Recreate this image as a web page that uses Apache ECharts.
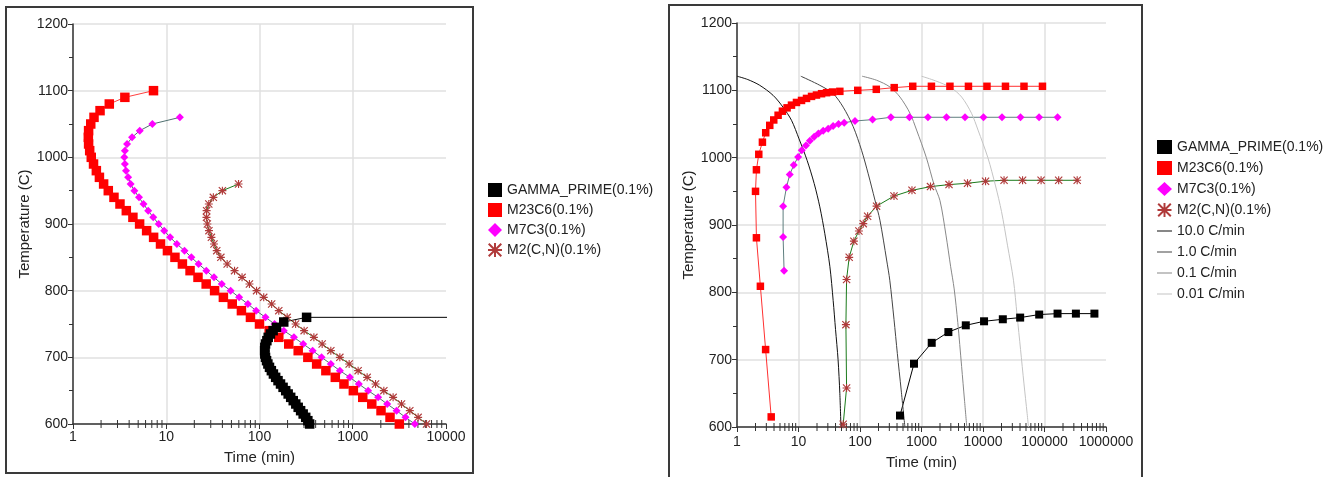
<!DOCTYPE html>
<html>
<head>
<meta charset="utf-8">
<script src="https://cdn.jsdelivr.net/npm/echarts@6/dist/echarts.min.js"></script>
<style>
html, body { margin: 0; padding: 0; background: #fff; }
#chart { width: 1323px; height: 477px; }
</style>
</head>
<body>
<div id="chart"></div>
<script>
// ---- left panel : [time (min), temperature (C)] ----
var leftGamma = [[100000,760],[320,760],[182,753],[152,745],[140,740],[131,735],[124,730],[120,725],[116,720],[114,715],[113.5,710],[114,705],[116,700],[119,695],[123,690],[128,685],[134,680],[141,675],[149,670],[158,665],[168,660],[179,655],[191,650],[203,645],[216,640],[230,635],[245,630],[260,625],[276,620],[294,615],[313,610],[330,605],[345,600]];
var leftM23C6 = [[7.3,1100],[3.6,1090],[2.45,1080],[1.95,1070],[1.68,1060],[1.55,1050],[1.47,1040],[1.46,1030],[1.47,1020],[1.51,1010],[1.57,1000],[1.66,990],[1.78,980],[1.92,970],[2.13,960],[2.39,950],[2.75,940],[3.19,930],[3.73,920],[4.39,910],[5.18,900],[6.16,890],[7.32,880],[8.68,870],[10.3,860],[12.4,850],[14.9,840],[18,830],[21.9,820],[26.8,810],[33,800],[41,790],[51,780],[64,770],[80,760],[100,750],[127,740],[161,730],[206,720],[260,710],[330,700],[410,690],[515,680],[650,670],[805,660],[1015,650],[1280,640],[1600,630],[2010,620],[2510,610],[3160,600]];
var leftM7C3 = [[14,1060],[7.1,1050],[5.2,1040],[4.3,1030],[3.8,1020],[3.6,1010],[3.55,1000],[3.6,990],[3.7,980],[3.9,970],[4.15,960],[4.55,950],[5.1,940],[5.7,930],[6.4,920],[7.25,910],[8.3,900],[9.5,890],[11,880],[13,870],[15.7,860],[18.6,850],[22.2,840],[26.9,830],[32.5,820],[39.4,810],[49,800],[60.5,790],[75,780],[92,770],[116,760],[145,750],[182,740],[234,730],[294,720],[371,710],[463,700],[582,690],[728,680],[931,670],[1161,660],[1462,650],[1871,640],[2339,630],[2950,620],[3680,610],[4630,600]];
var leftM2CN = [[59.6,960],[40,950],[32,940],[28.6,930],[27.1,920],[27,910],[27.6,900],[28.7,890],[30.5,880],[32.5,870],[34.8,860],[38.5,850],[45,840],[54,830],[65,820],[78,810],[93,800],[111,790],[135,780],[161,770],[198,760],[244,750],[301,740],[383,730],[470,720],[582,710],[727,700],[915,690],[1142,680],[1427,670],[1756,660],[2155,650],[2710,640],[3333,630],[4093,620],[5025,610],[6180,600]];

// ---- right panel ----
var rightGamma = [[447,617],[755,694],[1466,725],[2735,741],[5250,751],[10400,757],[21000,760],[40200,762.5],[82000,767],[163000,768.4],[324000,768.4],[648000,768.4]];
var rightM23C6 = [[3.6,615],[2.92,715],[2.4,809],[2.07,881],[2.0,950],[2.07,982],[2.26,1005],[2.59,1023],[2.93,1037],[3.41,1048],[3.96,1056],[4.66,1063],[5.48,1069],[6.52,1074],[7.69,1078],[9.27,1082],[11.2,1085],[13.5,1088],[16.3,1091],[19.6,1093],[23.7,1095],[28.6,1096.5],[35.8,1097.5],[47,1098.5],[92,1100],[184,1101.5],[360,1104],[720,1106],[1450,1106],[2900,1106],[5800,1106],[11600,1106],[23200,1106],[46400,1106],[92700,1106]];
var rightM7C3 = [[5.83,832],[5.62,882],[5.62,928],[6.37,956],[7.21,975],[8.38,989],[9.86,1001],[11.3,1011],[13.2,1018],[15.3,1025],[18,1031],[21.1,1036],[25.2,1040],[30.4,1043],[36.6,1047],[44.8,1050],[55.3,1052],[83,1054.5],[160,1056.5],[318,1060],[637,1060],[1273,1060],[2547,1060],[5094,1060],[10188,1060],[20375,1060],[40750,1060],[81500,1060],[163000,1060]];
var rightM2CN = [[53.3,604],[60.5,658],[59,752],[60.5,819],[66.7,852],[79.5,876],[96,891],[113,902],[133,913],[186,928],[357,943],[700,951.5],[1400,957],[2800,960],[5600,962],[11000,965],[22000,966.4],[44000,966.4],[88000,966.4],[170000,966.4],[340000,966.4]];
var cool10 = [[1.0,1121],[1.5,1116],[2.34,1107.5],[3.86,1092.6],[5.6,1075],[7.69,1055.5],[10.2,1028],[13.8,996],[18,961.5],[22.2,927],[26.8,887],[32.4,838],[36.6,788],[40,745],[44,700],[47,650],[49,600]];
var cool1 = [[10.9,1121],[22.2,1107.5],[36.6,1095],[53.3,1075],[77.6,1046],[106,1011],[136,976],[175,937],[211,907],[271,848],[305,818],[357,760],[405,709],[467,655],[537,600]];
var cool01 = [[108,1121],[186,1115],[307,1105],[447,1090],[650,1066],[832,1041],[1200,1000],[1600,960],[2000,936],[2500,885],[2980,838],[3400,805],[3890,755],[4490,690],[5000,640],[5450,600]];
var cool001 = [[1000,1121],[1700,1114],[3000,1104],[4500,1090],[6500,1066],[8300,1041],[12000,1000],[16000,958],[20000,920],[25000,870],[31300,818],[35800,766],[40800,715],[46400,664],[52200,620],[54900,600]];

var leftXLabels = ['1', '10', '100', '1000', '10000'];
var rightXLabels = ['1', '10', '100', '1000', '10000', '100000', '1000000'];
var minorMult = [2, 3, 4, 5, 6, 7, 8, 9];

var FONT = '"Liberation Sans", Arial, sans-serif';
var TXT = '#222';
// asterisk marker
var STAR = 'path://M0,4.3L10,4.3L10,5.7L0,5.7Z M4.3,0L5.7,0L5.7,10L4.3,10Z M1,0L10,9L9,10L0,1Z M9,0L10,1L1,10L0,9Z';
// thin bar for the cooling-rate legend items (tiny corner bits keep the box 15x14)
var BAR = 'path://M0,0L0.01,0L0,0.01Z M0,6.4L15,6.4L15,7.6L0,7.6Z M15,14L14.99,14L15,13.99Z';

var names = ['GAMMA_PRIME(0.1%)', 'M23C6(0.1%)', 'M7C3(0.1%)', 'M2(C,N)(0.1%)'];
var rateNames = ['10.0 C/min', '1.0 C/min', '0.1 C/min', '0.01 C/min'];

function marks(name, idx, data, symbol, size, color, lineColor) {
  return {
    type: 'line', name: name, xAxisIndex: idx, yAxisIndex: idx, data: data,
    symbol: symbol, symbolSize: size, showSymbol: true,
    itemStyle: { color: color },
    lineStyle: { color: lineColor, width: 1 },
    emphasis: { disabled: true }, silent: true
  };
}

function rateLine(name, data, color) {
  return {
    type: 'line', name: name, xAxisIndex: 1, yAxisIndex: 1, data: data,
    symbol: 'none', smooth: 0.3,
    itemStyle: { color: color },
    lineStyle: { color: color, width: 1 },
    emphasis: { disabled: true }, silent: true
  };
}

function minorTicks(name, idx, decades) {
  var vals = [];
  for (var d = 0; d < decades; d++) {
    for (var k = 0; k < minorMult.length; k++) vals.push([minorMult[k] * Math.pow(10, d), 600]);
  }
  return {
    type: 'custom', name: name, xAxisIndex: idx, yAxisIndex: idx, data: vals, silent: true, clip: false,
    renderItem: function (params, api) {
      var p = api.coord([api.value(0), api.value(1)]);
      return { type: 'line', shape: { x1: p[0], y1: p[1] - 4, x2: p[0], y2: p[1] + 4 }, style: { stroke: '#333', lineWidth: 1 } };
    }
  };
}

function xAxis(idx, max, labels, gap, margin) {
  return {
    type: 'log', logBase: 10, gridIndex: idx, min: 1, max: max,
    name: 'Time (min)', nameLocation: 'middle', nameGap: gap,
    nameTextStyle: { fontSize: 15, color: TXT, fontFamily: FONT },
    axisLine: { lineStyle: { color: '#333', width: 1.5 } },
    axisTick: { length: 5, lineStyle: { color: '#333' } },
    axisLabel: {
      fontSize: 14, color: TXT, fontFamily: FONT, margin: margin,
      formatter: function (v) { return labels[Math.round(Math.log(v) / Math.LN10)]; }
    },
    splitLine: { show: true, showMaxLine: false, lineStyle: { color: '#e0e0e0', width: 1.5 } }
  };
}

function yAxis(idx) {
  return {
    type: 'value', gridIndex: idx, min: 600, max: 1200, interval: 100,
    name: 'Temperature (C)', nameLocation: 'middle', nameGap: 41,
    nameTextStyle: { fontSize: 15, color: TXT, fontFamily: FONT },
    axisLine: { show: true, lineStyle: { color: '#333', width: 1.5 } },
    axisTick: { show: true, length: 5, lineStyle: { color: '#333' } },
    minorTick: { show: true, splitNumber: 2, length: 4, lineStyle: { color: '#333' } },
    axisLabel: {
      fontSize: 14, color: TXT, fontFamily: FONT, margin: 5,
      formatter: function (v) { return String(Math.round(v)); }
    },
    splitLine: { show: true, lineStyle: { color: '#e0e0e0', width: 1.5 } }
  };
}

function legendData(list) {
  var icons = ['rect', 'rect', 'diamond', STAR];
  return list.map(function (n, i) {
    return { name: n, icon: i < 4 ? icons[i] : BAR };
  });
}

var chart = echarts.init(document.getElementById('chart'));
chart.setOption({
  animation: false,
  textStyle: { fontFamily: FONT },
  graphic: [
    { type: 'rect', shape: { x: 6, y: 7, width: 467, height: 466 }, style: { fill: 'none', stroke: '#3a3a3a', lineWidth: 2 }, silent: true },
    { type: 'rect', shape: { x: 669, y: 5, width: 473, height: 490 }, style: { fill: 'none', stroke: '#3a3a3a', lineWidth: 2 }, silent: true }
  ],
  grid: [
    { left: 73, top: 24, width: 373, height: 400 },
    { left: 737, top: 23, width: 369, height: 404 }
  ],
  legend: [
    {
      orient: 'vertical', left: 488, top: 183, padding: 0, itemGap: 6,
      itemWidth: 14, itemHeight: 14, selectedMode: false,
      textStyle: { fontSize: 14, color: TXT, fontFamily: FONT },
      data: legendData(names)
    },
    {
      orient: 'vertical', left: 1157, top: 140, padding: 0, itemGap: 7,
      itemWidth: 15, itemHeight: 14, selectedMode: false,
      textStyle: { fontSize: 14, color: TXT, fontFamily: FONT },
      data: legendData(names.concat(rateNames))
    }
  ],
  xAxis: [xAxis(0, 10000, leftXLabels, 26, 6), xAxis(1, 1000000, rightXLabels, 28, 8)],
  yAxis: [yAxis(0), yAxis(1)],
  series: [
    minorTicks('minorL', 0, 4),
    minorTicks('minorR', 1, 6),
    marks(names[3], 0, leftM2CN, STAR, 8, '#b03a3a', '#1a7a1a'),
    marks(names[2], 0, leftM7C3, 'diamond', 8, '#ff00ff', '#4f6f6f'),
    marks(names[1], 0, leftM23C6, 'rect', 9.5, '#ff0000', '#ff4040'),
    marks(names[0], 0, leftGamma, 'rect', 9.5, '#000000', '#000000'),
    marks(names[3], 1, rightM2CN, STAR, 8, '#b03a3a', '#1a7a1a'),
    marks(names[2], 1, rightM7C3, 'diamond', 8, '#ff00ff', '#5f7f7f'),
    marks(names[1], 1, rightM23C6, 'rect', 7.5, '#ff0000', '#ff3030'),
    marks(names[0], 1, rightGamma, 'rect', 8, '#000000', '#000000'),
    rateLine(rateNames[0], cool10, '#111111'),
    rateLine(rateNames[1], cool1, '#444444'),
    rateLine(rateNames[2], cool01, '#888888'),
    rateLine(rateNames[3], cool001, '#c4c4c4')
  ]
});
</script>
</body>
</html>
